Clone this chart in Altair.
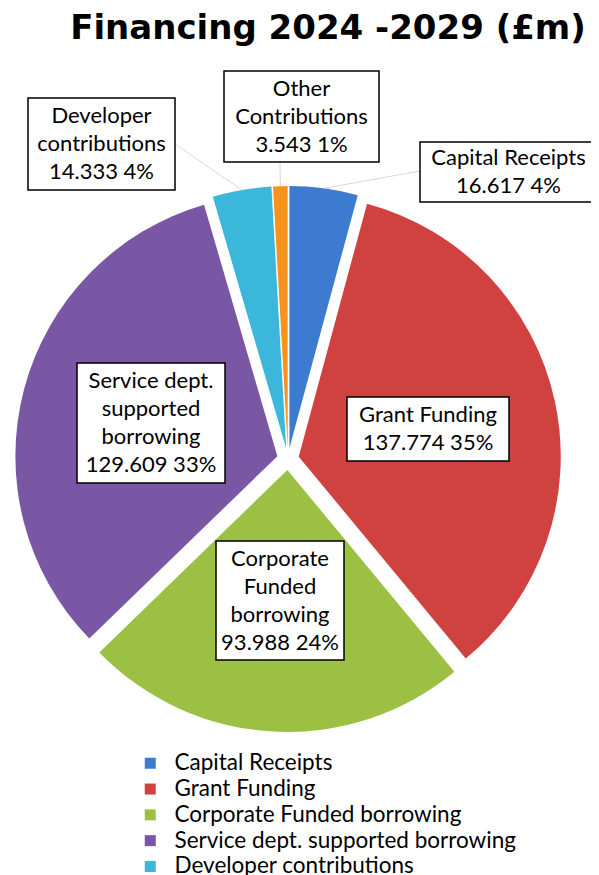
import altair as alt
import pandas as pd

# ---- data ----
categories = ["Capital Receipts", "Grant Funding", "Corporate Funded borrowing",
              "Service dept. supported borrowing", "Developer contributions", "Other Contributions"]
values = [16.617, 137.774, 93.988, 129.609, 14.333, 3.543]
label_names = ["Capital Receipts", "Grant Funding", "Corporate\nFunded\nborrowing",
               "Service dept.\nsupported\nborrowing", "Developer\ncontributions", "Other\nContributions"]
colors = ["#3C7BCF", "#CF4240", "#9CC043", "#7A57A4", "#3AB7DA", "#F6921E"]
TITLE = "Financing 2024 -2029 (£m)"

# ---- layout (plot coordinates, px) ----
CX, CY, R, EXPLODE = 280, 451, 262, 11
LH = 28
box_x1 = [412, 339, 208, 69, 20, 216]
box_x2 = [589, 501, 336, 217, 167, 371]
box_y1 = [134, 389, 533, 355, 90, 63]
box_y2 = [194, 453, 652, 475, 182, 154]
anchor_x = [412, None, None, None, 167, 272]
anchor_y = [163, None, None, None, 136, 154]

total = sum(values)
labels = [f"{n}\n{v:.3f} {round(v / total * 100):d}%" for n, v in zip(label_names, values)]
nlines = [lab.count("\n") + 1 for lab in labels]

df = pd.DataFrame({"category": categories, "value": values, "order": list(range(len(values)))})
layout = pd.DataFrame({"category": categories, "label": labels, "n": nlines,
                       "bx1": box_x1, "bx2": box_x2, "by1": box_y1, "by2": box_y2,
                       "ax": anchor_x, "ay": anchor_y})

base = (alt.Chart(df)
        .transform_joinaggregate(total="sum(value)")
        .transform_window(cum="sum(value)", sort=[alt.SortField("order")], frame=[None, 0])
        .transform_calculate(t0="2*PI*(datum.cum-datum.value)/datum.total",
                             t1="2*PI*datum.cum/datum.total")
        .transform_calculate(mid="(datum.t0+datum.t1)/2")
        .transform_calculate(px=f"{CX}+{EXPLODE}*sin(datum.mid)",
                             py=f"{CY}-{EXPLODE}*cos(datum.mid)")
        .transform_calculate(ex=f"datum.px+{R}*sin(datum.mid)",
                             ey=f"datum.py-{R}*cos(datum.mid)")
        .transform_lookup(lookup="category",
                          from_=alt.LookupData(layout, "category",
                                               ["label", "n", "bx1", "bx2", "by1", "by2", "ax", "ay"]))
        .transform_calculate(tx="(datum.bx1+datum.bx2)/2",
                             ty=f"(datum.by1+datum.by2)/2-(datum.n-1)*{LH}/2"))

def X(f):
    return alt.X(f"{f}:Q", scale=None, axis=None)

def Y(f):
    return alt.Y(f"{f}:Q", scale=None, axis=None)

arcs = base.mark_arc(radius=R).encode(
    theta=alt.Theta("t0:Q", scale=None),
    theta2="t1:Q",
    x=X("px"), y=Y("py"),
    color=alt.Color("category:N",
                    scale=alt.Scale(domain=categories, range=colors),
                    legend=alt.Legend(orient="none", legendX=131, legendY=744, title=None,
                                      symbolType="square", symbolSize=121, symbolStrokeWidth=0,
                                      labelFont="Lato", labelFontSize=22.5, labelColor="black",
                                      labelOffset=13, rowPadding=2.8, labelLimit=500)),
)

leaders = base.transform_filter("isValid(datum.ax)").mark_rule(color="#D9D9D9", strokeWidth=1).encode(
    x=X("ex"), y=Y("ey"), x2="ax:Q", y2="ay:Q")

boxes = base.mark_rect(fill="white", stroke="black", strokeWidth=1.5).encode(
    x=X("bx1"), x2="bx2:Q", y=Y("by1"), y2="by2:Q")

texts = base.mark_text(font="Lato", fontSize=22, lineBreak="\n", lineHeight=LH,
                       align="center", baseline="middle", color="black").encode(
    x=X("tx"), y=Y("ty"), text="label:N")

title = alt.Chart(pd.DataFrame({"t": [TITLE]})).mark_text(
    font="DejaVu Sans", fontSize=34, fontWeight="bold", align="center", baseline="alphabetic",
    color="black").encode(x=alt.value(320), y=alt.value(31), text="t:N")

chart = (alt.layer(arcs, leaders, boxes, texts, title)
         .properties(width=583, height=868, padding=0, autosize="none")
         .configure_view(stroke=None))

chart.save("out.html", embed_options={"renderer": "svg", "actions": False})
